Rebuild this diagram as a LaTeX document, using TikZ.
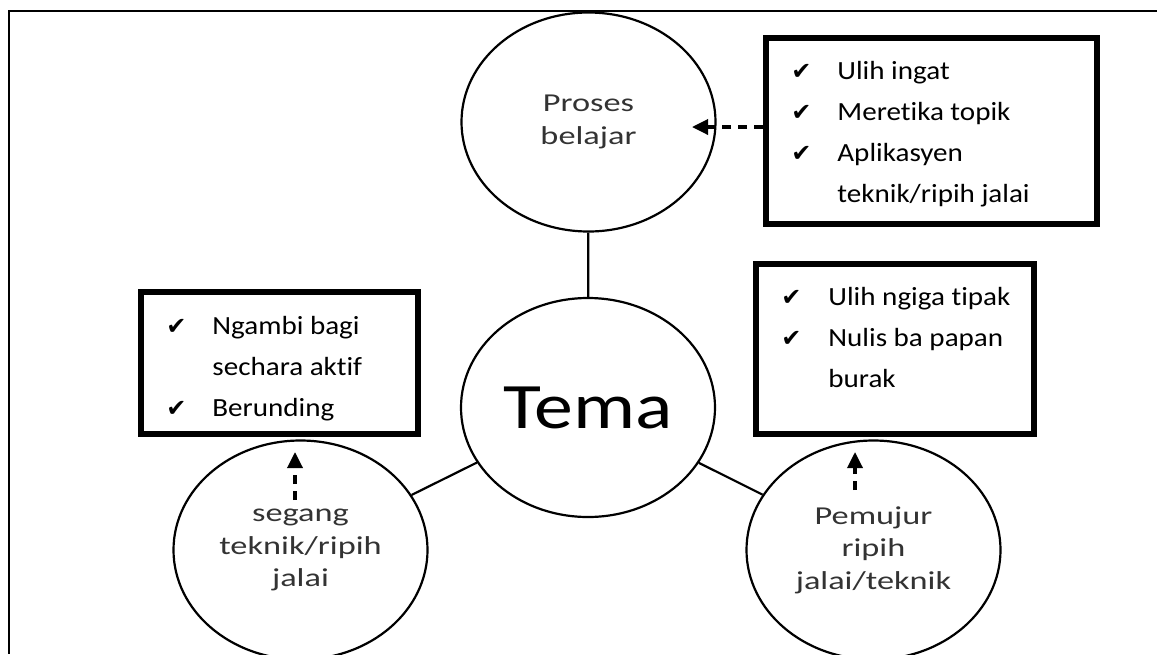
\documentclass[tikz,border=0pt]{standalone}
\usepackage{fontspec}
\setmainfont{Carlito}[FakeStretch=1.11, Ligatures=NoCommon]
\newfontfamily\bulatfont{Carlito}[FakeStretch=1.33, Ligatures=NoCommon]
\newfontfamily\temafont{Carlito}[FakeStretch=1.2]
\newfontfamily\tandafont{DejaVu Sans}
\newcommand\centang{{\tandafont\fontsize{12}{12}\selectfont ✔}}
\usetikzlibrary{shapes.geometric}
\usetikzlibrary{arrows.meta}
\usetikzlibrary{fit}
\tikzset{bulat/.style={draw, ellipse, line width=1.1pt, minimum width=127pt,
   minimum height=109.5pt, inner sep=0pt, align=center, text=black!80,
   font=\bulatfont\fontsize{12.9}{16.3}\selectfont},
 kotak/.style={draw, line width=3pt, inner sep=0pt},
 senarai/.style={inner sep=0pt, anchor=base west, font=\fontsize{13.1}{20.5}\selectfont},
 garis/.style={line width=1.1pt},
 putus/.style={line width=1.7pt, dash pattern=on 4.5pt off 3.5pt,
   -{Triangle[length=8pt,width=7.5pt]}},
 bingkai/.style={line width=1.2pt},
 }

\begin{document}
\begin{tikzpicture}[x=0.5pt, y=-0.5pt]
        \useasboundingbox (0,0) rectangle (1157,654);
        \draw[bingkai] (1157,11) -- (9,11) -- (9,654);
        \node[bulat] (proses) at (588.5,122) {Proses\\belajar};
        \node[bulat, text=black, font=\temafont\fontsize{32.4}{38}\selectfont] (tema) at (588,407.5) {Tema};
        \node[bulat] (segang) at (300.5,550) {segang\\teknik/ripih\\jalai};
        \node[bulat] (pemujur) at (873.5,550) {Pemujur\\ripih\\jalai/teknik};
        \draw[garis] (proses) -- (tema);
        \draw[garis] (tema) -- (segang);
        \draw[garis] (tema) -- (pemujur);
        \node[kotak, fit={(766,38) (1097,224)}] (kotakA) {};
        \node[kotak, fit={(141,292) (418,434)}] (kotakB) {};
        \node[kotak, fit={(756,264) (1034,434)}] (kotakC) {};
        \node[senarai] (senaraiA) at (791,79) {\begin{tabular}[t]{@{}p{23pt}@{}l@{}}
            \centang & Ulih ingat\\ \centang & Meretika topik\\
            \centang & Aplikasyen\\ & teknik/ripih jalai\end{tabular}};
        \node[senarai] (senaraiB) at (166,334) {\begin{tabular}[t]{@{}p{23pt}@{}l@{}}
            \centang & Ngambi bagi\\ & sechara aktif\\ \centang & Berunding\end{tabular}};
        \node[senarai] (senaraiC) at (781,305) {\begin{tabular}[t]{@{}p{23.5pt}@{}l@{}}
            \centang & Ulih ngiga tipak\\ \centang & Nulis ba papan\\ & burak\end{tabular}};
        \coordinate (ujungA) at (692,127);
        \coordinate (pangkalB) at (295,500);
        \coordinate (ujungB) at (295,452);
        \coordinate (pangkalC) at (855,490);
        \coordinate (ujungC) at (855,452);
        \draw[putus] (kotakA.west |- ujungA) -- (ujungA);
        \draw[putus] (pangkalB) -- (ujungB);
        \draw[putus] (pangkalC) -- (ujungC);
    \end{tikzpicture}
\end{document}
